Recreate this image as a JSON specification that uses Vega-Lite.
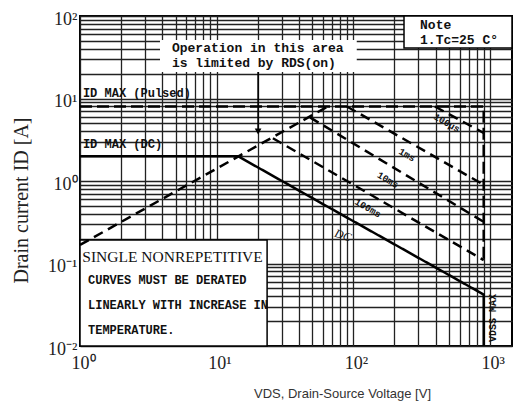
{
 "$schema": "https://vega.github.io/schema/vega-lite/v6.json",
 "width": 432,
 "height": 330,
 "autosize": "none",
 "padding": {"left": 80, "top": 16, "right": 2, "bottom": 60},
 "background": "white",
 "config": {"view": {"stroke": "black", "strokeWidth": 2}, "font": "Liberation Serif"},
 "datasets": {
  "boxes": [
   {"box": "single", "x1": 1, "x2": 23.4, "y1": 0.01, "y2": 0.193},
   {"box": "note", "x1": 235, "x2": 1450, "y1": 40.9, "y2": 100},
   {"box": "op", "x1": 3.85, "x2": 106, "y1": 20.9, "y2": 51.2}
  ],
  "curves": [
   {"series": "DC", "order": 1, "vds": 1, "id": 2},
   {"series": "DC", "order": 2, "vds": 14.3, "id": 2},
   {"series": "DC", "order": 3, "vds": 900, "id": 0.042},
   {"series": "DC", "order": 4, "vds": 900, "id": 0.01},
   {"series": "RDS(on)", "order": 1, "vds": 1, "id": 0.168},
   {"series": "RDS(on)", "order": 2, "vds": 65, "id": 8},
   {"series": "Pulsed", "order": 1, "vds": 1, "id": 8},
   {"series": "Pulsed", "order": 2, "vds": 900, "id": 8},
   {"series": "Pulsed", "order": 3, "vds": 900, "id": 0.11},
   {"series": "100µs", "order": 1, "vds": 395, "id": 8},
   {"series": "100µs", "order": 2, "vds": 900, "id": 3.82},
   {"series": "1ms", "order": 1, "vds": 89.8, "id": 8},
   {"series": "1ms", "order": 2, "vds": 900, "id": 0.9},
   {"series": "10ms", "order": 1, "vds": 48.2, "id": 5.9},
   {"series": "10ms", "order": 2, "vds": 900, "id": 0.32},
   {"series": "100ms", "order": 1, "vds": 25.8, "id": 3.3},
   {"series": "100ms", "order": 2, "vds": 900, "id": 0.11}
  ],
  "arrow": [{"x": 20.1, "y1": 20.9, "y2": 4.1, "tip": 3.98}],
  "notes": [
   {"g": "m12", "t": "ID MAX (Pulsed)", "x": 1.05, "y": 11.7},
   {"g": "m12", "t": "ID MAX (DC)", "x": 1.05, "y": 2.8},
   {"g": "m13", "t": "Operation in this area", "x": 4.71, "y": 41},
   {"g": "m13", "t": "is limited by RDS(on)", "x": 4.71, "y": 27},
   {"g": "m13", "t": "Note", "x": 308, "y": 78.5},
   {"g": "m13", "t": "1.Tc=25 C°", "x": 308, "y": 50.5},
   {"g": "serif", "t": "SINGLE NONREPETITIVE", "x": 1.04, "y": 0.12},
   {"g": "small", "t": "CURVES MUST BE DERATED", "x": 1.144, "y": 0.063},
   {"g": "small", "t": "LINEARLY WITH INCREASE IN", "x": 1.144, "y": 0.0314},
   {"g": "small", "t": "TEMPERATURE.", "x": 1.144, "y": 0.0156},
   {"g": "curve", "t": "100µs", "x": 484, "y": 5.05},
   {"g": "curve", "t": "1ms", "x": 247, "y": 2.07},
   {"g": "curve", "t": "10ms", "x": 179, "y": 1.03},
   {"g": "curve", "t": "100ms", "x": 128, "y": 0.47},
   {"g": "dc", "t": "DC", "x": 84, "y": 0.22},
   {"g": "vdss", "t": "VDSS MAX", "x": 1050, "y": 0.0218}
  ]
 },
 "layer": [
  {
   "data": {"name": "boxes"},
   "transform": [{"filter": "datum.box != 'op'"}],
   "mark": {"type": "rect", "fill": "white", "stroke": "black", "strokeWidth": 1.5},
   "encoding": {
    "x": {"field": "x1", "type": "quantitative", "scale": {"type": "log", "domain": [1, 1450], "nice": false},
     "axis": {
      "values": [1,2,3,4,5,6,7,8,9,10,20,30,40,50,60,70,80,90,100,200,300,400,500,600,700,800,900,1000],
      "labelExpr": "datum.value === 1 ? '10⁰' : datum.value === 10 ? '10¹' : datum.value === 100 ? '10²' : datum.value === 1000 ? '10³' : ''",
      "grid": true, "gridColor": "#222", "gridWidth": 1.3, "ticks": false, "domain": false,
      "labelFont": "Liberation Serif", "labelFontSize": 18, "labelColor": "#222", "labelPadding": 8,
      "labelOverlap": false, "labelFlush": false, "labelBound": false, "labelAlign": "left", "labelOffset": -9,
      "title": "VDS, Drain-Source Voltage [V]", "titleFont": "Liberation Sans", "titleFontSize": 13,
      "titleFontWeight": "normal", "titleColor": "#333", "titleX": 262, "titleY": 47,
      "titleAlign": "center", "titleBaseline": "middle"
     }},
    "x2": {"field": "x2"},
    "y": {"field": "y1", "type": "quantitative", "scale": {"type": "log", "domain": [0.01, 100], "nice": false},
     "axis": {
      "values": [0.01,0.02,0.03,0.04,0.05,0.06,0.07,0.08,0.09,0.1,0.2,0.3,0.4,0.5,0.6,0.7,0.8,0.9,1,2,3,4,5,6,7,8,9,10,20,30,40,50,60,70,80,90,100],
      "labelExpr": "datum.value === 0.01 ? '10⁻²' : datum.value === 0.1 ? '10⁻¹' : datum.value === 1 ? '10⁰' : datum.value === 10 ? '10¹' : datum.value === 100 ? '10²' : ''",
      "grid": true, "gridColor": "#222", "gridWidth": 1.3, "ticks": false, "domain": false,
      "labelFont": "Liberation Serif", "labelFontSize": 18, "labelColor": "#222", "labelPadding": 3,
      "labelOverlap": false, "labelFlush": false, "labelBound": false, "labelOffset": 3,
      "title": "Drain current  ID [A]", "titleFont": "Liberation Serif", "titleFontSize": 20,
      "titleFontWeight": "normal", "titleColor": "#222", "titleX": -59, "titleY": 184,
      "titleAngle": 270, "titleAlign": "center", "titleBaseline": "middle"
     }},
    "y2": {"field": "y2"}
   }
  },
  {
   "data": {"name": "boxes"},
   "transform": [{"filter": "datum.box == 'op'"}],
   "mark": {"type": "rect", "fill": "white"},
   "encoding": {
    "x": {"field": "x1", "type": "quantitative"},
    "x2": {"field": "x2"},
    "y": {"field": "y1", "type": "quantitative"},
    "y2": {"field": "y2"}
   }
  },
  {
   "data": {"name": "curves"},
   "mark": {"type": "line", "color": "black", "strokeWidth": 2.5},
   "encoding": {
    "x": {"field": "vds", "type": "quantitative"},
    "y": {"field": "id", "type": "quantitative"},
    "strokeDash": {"field": "series", "type": "nominal",
     "scale": {"domain": ["DC", "RDS(on)", "Pulsed", "100µs", "1ms", "10ms", "100ms"],
      "range": [[1, 0], [10, 6], [12, 5], [10, 6], [10, 6], [10, 6], [10, 6]]}, "legend": null},
    "order": {"field": "order", "type": "quantitative"}
   }
  },
  {
   "data": {"name": "arrow"},
   "mark": {"type": "rule", "color": "black", "strokeWidth": 1.5},
   "encoding": {
    "x": {"field": "x", "type": "quantitative"},
    "y": {"field": "y1", "type": "quantitative"},
    "y2": {"field": "y2"}
   }
  },
  {
   "data": {"name": "arrow"},
   "mark": {"type": "point", "shape": "triangle-down", "filled": true, "size": 45, "fill": "black", "opacity": 1},
   "encoding": {
    "x": {"field": "x", "type": "quantitative"},
    "y": {"field": "tip", "type": "quantitative"}
   }
  },
  {
   "data": {"name": "notes"},
   "transform": [{"filter": "datum.g == 'm12'"}],
   "mark": {"type": "text", "align": "left", "baseline": "middle", "font": "Liberation Mono", "fontSize": 12, "fontWeight": "bold", "fill": "#111"},
   "encoding": {
    "x": {"field": "x", "type": "quantitative"},
    "y": {"field": "y", "type": "quantitative"},
    "text": {"field": "t"}
   }
  },
  {
   "data": {"name": "notes"},
   "transform": [{"filter": "datum.g == 'm13'"}],
   "mark": {"type": "text", "align": "left", "baseline": "middle", "font": "Liberation Mono", "fontSize": 13, "fontWeight": "bold", "fill": "#111"},
   "encoding": {
    "x": {"field": "x", "type": "quantitative"},
    "y": {"field": "y", "type": "quantitative"},
    "text": {"field": "t"}
   }
  },
  {
   "data": {"name": "notes"},
   "transform": [{"filter": "datum.g == 'serif'"}],
   "mark": {"type": "text", "align": "left", "baseline": "middle", "font": "Liberation Serif", "fontSize": 15.5, "fill": "#111"},
   "encoding": {
    "x": {"field": "x", "type": "quantitative"},
    "y": {"field": "y", "type": "quantitative"},
    "text": {"field": "t"}
   }
  },
  {
   "data": {"name": "notes"},
   "transform": [{"filter": "datum.g == 'small'"}],
   "mark": {"type": "text", "align": "left", "baseline": "middle", "font": "Liberation Mono", "fontSize": 12, "fontWeight": "bold", "fill": "#111"},
   "encoding": {
    "x": {"field": "x", "type": "quantitative"},
    "y": {"field": "y", "type": "quantitative"},
    "text": {"field": "t"}
   }
  },
  {
   "data": {"name": "notes"},
   "transform": [{"filter": "datum.g == 'curve'"}],
   "mark": {"type": "text", "align": "center", "baseline": "middle", "angle": 30, "font": "Liberation Mono", "fontSize": 9.5, "fontWeight": "bold", "fill": "#111"},
   "encoding": {
    "x": {"field": "x", "type": "quantitative"},
    "y": {"field": "y", "type": "quantitative"},
    "text": {"field": "t"}
   }
  },
  {
   "data": {"name": "notes"},
   "transform": [{"filter": "datum.g == 'dc'"}],
   "mark": {"type": "text", "align": "center", "baseline": "middle", "angle": 20, "font": "Liberation Serif", "fontSize": 12, "fontStyle": "italic", "fill": "#111"},
   "encoding": {
    "x": {"field": "x", "type": "quantitative"},
    "y": {"field": "y", "type": "quantitative"},
    "text": {"field": "t"}
   }
  },
  {
   "data": {"name": "notes"},
   "transform": [{"filter": "datum.g == 'vdss'"}],
   "mark": {"type": "text", "align": "center", "baseline": "middle", "angle": 270, "font": "Liberation Mono", "fontSize": 10, "fontWeight": "bold", "fill": "#111"},
   "encoding": {
    "x": {"field": "x", "type": "quantitative"},
    "y": {"field": "y", "type": "quantitative"},
    "text": {"field": "t"}
   }
  }
 ]
}
